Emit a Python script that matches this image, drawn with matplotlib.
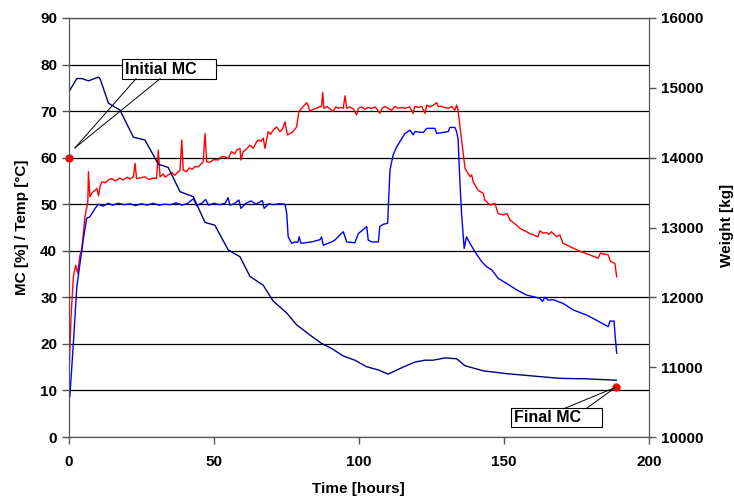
import matplotlib
matplotlib.use("Agg")
import matplotlib.pyplot as plt

plt.rcParams['font.family'] = ['Liberation Sans', 'DejaVu Sans']
plt.rcParams['font.weight'] = 'bold'

# temperature trace (red), hours / degC
temp_t = [0.0, 0.7, 1.5, 2.3, 3.0, 3.8, 4.4, 5.5, 6.5, 6.7, 7.2, 8.0, 9.0, 9.6, 10.2, 10.7, 11.3,
          12.5, 13.5, 14.7, 16.0, 17.5, 18.7, 20.0, 21.0, 22.2, 22.8, 23.3, 25.0, 26.2, 27.5, 29.0,
          30.2, 30.8, 31.4, 32.5, 33.2, 34.2, 35.5, 36.5, 37.5, 38.3, 38.9, 39.4, 40.5, 41.5, 42.5,
          43.4, 44.5, 45.5, 46.3, 46.9, 47.5, 48.5, 50.0, 51.5, 52.5, 53.8, 54.9, 56.1, 57.2, 57.8,
          59.0, 59.3, 60.1, 61.2, 62.4, 63.6, 64.5, 65.3, 66.2, 67.0, 67.6, 68.7, 69.5, 70.4, 71.6,
          72.8, 73.7, 74.5, 75.3, 76.3, 77.3, 78.5, 79.3, 80.8, 82.0, 82.5, 83.1, 84.2, 85.4, 86.3,
          87.1, 87.5, 87.9, 89.0, 90.0, 91.1, 92.0, 92.9, 93.8, 94.6, 95.2, 95.8, 96.8, 98.0, 99.2,
          99.8, 101.0, 102.0, 103.2, 104.4, 105.5, 106.3, 107.2, 108.0, 109.0, 110.0, 111.3, 112.4,
          113.5, 114.8, 115.9, 117.5, 118.7, 119.3, 120.5, 121.7, 122.8, 123.4, 124.5, 125.5, 126.8,
          127.4, 128.5, 129.5, 130.8, 132.0, 133.1, 133.7, 134.2, 135.4, 136.6, 138.3, 138.9, 139.4,
          141.1, 142.9, 143.4, 145.2, 146.9, 148.0, 149.8, 151.1, 152.1, 154.4, 155.5, 157.2, 159.0,
          161.8, 162.4, 163.5, 164.7, 165.5, 166.4, 168.2, 169.3, 170.4, 172.8, 176.2, 179.7, 182.5,
          183.3, 186.0, 186.8, 188.3, 188.9]
temp_v = [13.0, 25.8, 34.4, 36.9, 35.2, 39.1, 40.2, 47.3, 50.5, 57.0, 51.6, 52.5, 53.0, 53.4, 51.8,
          53.8, 54.8, 54.6, 55.2, 55.5, 55.0, 55.6, 55.2, 55.8, 55.4, 55.9, 58.8, 55.5, 55.7, 55.9,
          55.3, 55.6, 55.5, 61.6, 55.9, 56.5, 55.8, 56.3, 56.8, 56.2, 56.9, 57.3, 63.8, 57.3, 57.0,
          57.8, 57.5, 58.1, 58.0, 58.6, 59.1, 65.2, 59.1, 59.0, 59.6, 59.5, 60.2, 60.2, 59.8, 61.3,
          60.8, 61.6, 62.0, 59.5, 61.3, 61.8, 62.7, 62.0, 63.2, 63.8, 63.5, 64.2, 62.0, 65.6, 65.0,
          65.9, 66.6, 65.6, 66.2, 67.7, 64.9, 65.2, 65.6, 66.6, 69.9, 71.0, 71.8, 71.2, 69.9, 70.4,
          70.6, 70.9, 71.0, 74.0, 70.6, 71.0, 70.5, 69.9, 70.9, 70.6, 70.8, 70.6, 73.3, 70.6, 70.9,
          70.5, 69.2, 70.6, 70.9, 70.4, 70.8, 70.6, 70.9, 70.4, 69.5, 70.6, 71.0, 70.6, 70.2, 71.0,
          70.6, 70.8, 70.6, 70.9, 69.5, 71.0, 70.8, 71.0, 69.5, 71.3, 70.9, 71.2, 71.8, 71.0, 71.0,
          70.8, 70.6, 71.0, 70.2, 71.3, 70.2, 63.8, 57.7, 55.9, 56.3, 54.8, 53.0, 52.3, 50.9, 49.8,
          50.2, 48.0, 47.7, 48.0, 46.6, 45.5, 44.8, 44.3, 43.7, 43.0, 44.3, 43.8, 43.9, 43.5, 44.1,
          43.0, 43.4, 41.6, 40.9, 39.9, 39.1, 38.4, 39.5, 39.1, 37.7, 37.3, 34.4]

# second temperature trace (blue)
temp2_t = [0.3, 1.5, 2.7, 3.8, 4.9, 6.1, 7.2, 9.0, 10.1, 11.8, 13.5, 15.0, 17.0, 19.0, 21.0, 23.0,
           25.0, 27.0, 29.0, 31.0, 33.0, 35.0, 37.0, 39.0, 41.0, 42.9, 44.0, 46.0, 47.1, 48.2, 50.0,
           52.0, 53.8, 54.9, 55.5, 57.0, 58.6, 59.3, 61.0, 62.8, 64.5, 66.7, 67.3, 69.0, 70.5, 72.5,
           74.5, 75.1, 75.6, 76.8, 77.9, 78.9, 79.4, 80.0, 83.7, 86.6, 87.1, 87.7, 90.6, 91.7, 94.6,
           95.8, 98.6, 99.8, 102.7, 103.2, 104.4, 106.7, 107.2, 108.4, 109.9, 110.7, 111.8, 113.0,
           114.1, 115.9, 117.6, 118.7, 119.3, 122.2, 123.4, 126.2, 126.8, 130.8, 131.4, 133.1, 133.7,
           134.2, 134.8, 135.4, 136.3, 137.1, 138.3, 140.0, 142.3, 144.0, 145.8, 148.0, 150.9, 154.4,
           157.8, 162.4, 163.3, 164.1, 165.3, 167.0, 170.4, 173.9, 178.5, 181.9, 184.8, 186.0, 186.6,
           188.0, 188.3, 188.9]
temp2_v = [8.7, 20.1, 32.3, 37.3, 42.3, 47.0, 47.3, 49.1, 50.0, 49.6, 50.2, 49.8, 50.2, 49.9, 50.1,
           49.7, 50.1, 49.8, 50.2, 49.8, 50.0, 49.9, 50.3, 49.8, 50.2, 51.2, 49.7, 50.3, 51.0, 49.8,
           50.2, 49.9, 50.2, 51.4, 49.8, 50.1, 50.9, 49.1, 50.2, 50.7, 50.0, 50.8, 49.1, 50.1, 49.9,
           50.1, 50.0, 48.0, 43.0, 41.6, 41.9, 41.8, 43.0, 41.6, 41.9, 42.4, 43.0, 41.2, 41.9, 42.3,
           44.1, 41.9, 41.7, 43.7, 45.2, 42.3, 41.9, 41.9, 45.2, 45.7, 45.9, 57.3, 60.6, 62.3, 63.4,
           65.2, 65.9, 64.9, 65.6, 65.4, 66.3, 66.3, 65.2, 65.6, 66.5, 66.5, 65.6, 64.0, 55.2, 48.0,
           40.5, 43.0, 41.6, 39.8, 37.7, 36.6, 35.9, 34.1, 33.0, 31.6, 30.5, 29.8, 29.1, 30.0, 29.4,
           29.5, 28.7, 27.3, 26.2, 25.1, 24.1, 23.7, 24.9, 24.9, 22.3, 18.0]

# load weight (navy), kg on the right axis
weight_t = [0.3, 2.7, 4.4, 6.7, 10.1, 10.7, 13.6, 17.6, 22.2, 26.2, 30.8, 34.2, 38.3, 42.9, 46.9,
            50.3, 54.9, 59.0, 62.4, 67.0, 70.4, 75.0, 78.5, 83.1, 87.1, 90.6, 94.6, 98.6, 102.6,
            106.7, 110.1, 112.4, 115.9, 119.3, 122.8, 125.6, 129.7, 133.7, 136.6, 143.0, 151.0,
            160.2, 169.3, 178.5, 188.8]
weight_kg = [14967, 15133, 15133, 15100, 15153, 15133, 14780, 14680, 14293, 14253, 13907, 13860,
             13513, 13440, 13073, 13033, 12680, 12580, 12300, 12173, 11947, 11780, 11607, 11460,
             11340, 11267, 11160, 11100, 11007, 10960, 10900, 10947, 11013, 11073, 11100, 11100,
             11133, 11120, 11020, 10947, 10907, 10873, 10840, 10833, 10813]

# moisture content at start and end
mc_t = [0.0, 188.8]
mc_v = [60.0, 10.8]

fig = plt.figure(figsize=(7.34, 4.97), dpi=100)
ax = fig.add_axes([0.094, 0.1207, 0.79, 0.8431])

ax.set_xlim(0, 200)
ax.set_ylim(0, 90)
ax.set_xticks(range(0, 201, 50))
ax.set_yticks(range(0, 91, 10))
ax.yaxis.grid(True, color='black', lw=0.9)
ax.set_axisbelow(True)

ax.plot(temp_t, temp_v, color='#ff0000', lw=1.0)
ax.plot(temp2_t, temp2_v, color='#0000ff', lw=1.0)
ax.plot(mc_t, mc_v, 'o', color='#ff0000', ms=5, clip_on=False, zorder=5)

ax2 = ax.twinx()
ax2.set_ylim(10000, 16000)
ax2.set_yticks(range(10000, 16001, 1000))
ax2.plot(weight_t, weight_kg, color='#000080', lw=1.0)

for a in (ax, ax2):
    a.tick_params(labelsize=11, length=5, color='#555555', width=1)
    for s in a.spines.values():
        s.set_color('#555555')
    for lab in a.get_xticklabels() + a.get_yticklabels():
        lab.set_fontweight('bold')
ax.tick_params(axis='x', pad=8)
ax.spines['top'].set_color('black')

ax.set_ylabel('MC [%] / Temp [°C]', fontsize=11, fontweight='bold', labelpad=8)
fig.text(0.488, 0.016, 'Time [hours]', fontsize=11, fontweight='bold', ha='center', va='center')
fig.text(0.9905, 0.547, 'Weight [kg]', fontsize=11, fontweight='bold', ha='center',
         va='center', rotation=90)


# wedge callout: box plus two lines from the box edge to the tip
def callout(text, box, base_x, tip):
    x0, y0, x1, y1 = box
    ax.add_patch(plt.Rectangle((x0, y0), x1 - x0, y1 - y0, transform=ax.transAxes,
                               facecolor='white', edgecolor='black', lw=0.8, zorder=6,
                               clip_on=False))
    ax.text(x0 + 0.006, (y0 + y1) / 2, text, transform=ax.transAxes, fontsize=11.5,
            fontweight='bold', va='center', ha='left', zorder=7)
    edge_y = y0 if tip[1] < y0 else y1
    for bx in base_x:
        ax.plot([bx, tip[0]], [edge_y, tip[1]], transform=ax.transAxes,
                color='black', lw=0.7, zorder=6, clip_on=False)


callout('Initial MC', (0.0909, 0.855, 0.253, 0.901), (0.1155, 0.157), (0.0103, 0.690))
callout('Final MC', (0.762, 0.023, 0.920, 0.0685), (0.855, 0.8926), (0.9426, 0.1186))

fig.savefig('out.png', dpi=100)
